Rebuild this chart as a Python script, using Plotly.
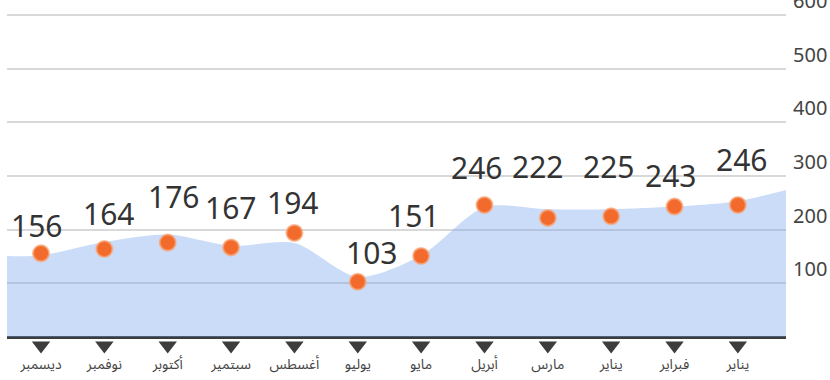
import plotly.graph_objects as go

# Monthly categories (left to right) and the values shown on the dots
months = ["ديسمبر", "نوفمبر", "أكتوبر", "سبتمير", "أغسطس", "يوليو",
          "مايو", "أبريل", "مارس", "يناير", "فبراير", "يناير"]
values = [156, 164, 176, 167, 194, 103, 151, 246, 222, 225, 243, 246]

# Smoothed background trend (position on the month axis, value)
trend_pos = [-0.54, 0, 1, 2, 3, 4, 5, 6, 7, 8, 9, 10, 11, 11.76]
trend_vals = [151, 152, 177, 191, 170, 175, 112, 152, 242, 238, 238, 243, 253, 274]

y_ticks = [100, 200, 300, 400, 500, 600]

# Label placement tweaks (pixels) so the numbers don't collide
label_dx = [-5, 4, 6, -1, -2, 14, -8, -8, -10, -3, -4, 4]
label_dy = [28, 36, 46, 40, 30, 29, 40, 38, 51, 50, 31, 46]

positions = list(range(len(months)))

fig = go.Figure()

fig.add_trace(go.Scatter(
    x=trend_pos, y=trend_vals, mode="lines",
    line=dict(width=0, shape="spline", smoothing=0.8),
    fill="tozeroy", fillcolor="rgba(110,160,235,0.37)",
    hoverinfo="skip", showlegend=False,
))

# Downward pointers under each month on the baseline
fig.add_trace(go.Scatter(
    x=positions, y=[-16] * len(positions), mode="markers",
    marker=dict(symbol="triangle-down", size=16, color="#3d3d3d"),
    cliponaxis=False, hoverinfo="skip", showlegend=False,
))

fig.add_trace(go.Scatter(
    x=positions, y=values, mode="markers",
    marker=dict(size=16, color="#F26A2C",
                line=dict(width=2, color="rgba(248,165,120,0.75)")),
    cliponaxis=False, showlegend=False,
))

for i, v in enumerate(values):
    fig.add_annotation(
        x=i, y=v, text=str(v), showarrow=False,
        xshift=label_dx[i], yshift=label_dy[i],
        font=dict(family="Noto Sans, Open Sans, sans-serif", size=30, color="#333333"),
    )

fig.update_layout(
    width=830, height=380,
    margin=dict(l=7, r=44, t=0, b=30),
    paper_bgcolor="white", plot_bgcolor="white",
    showlegend=False,
)

fig.update_xaxes(
    range=[-0.537, 11.76], automargin=False,
    tickvals=positions, ticktext=months,
    ticklabelstandoff=4,
    showgrid=False, zeroline=False, showline=False, ticks="",
    tickfont=dict(family="Noto Sans Arabic, DejaVu Sans, sans-serif", size=14, color="#444444"),
)

fig.update_yaxes(
    range=[-24.2, 628], automargin=False,
    side="right", tickvals=y_ticks,
    ticklabelposition="outside top", ticklabeloverflow="allow",
    ticklabelstandoff=6,
    showgrid=True, gridcolor="#d9d9d9", gridwidth=2,
    zeroline=True, zerolinecolor="#3c3c3c", zerolinewidth=3,
    showline=False, ticks="",
    tickfont=dict(family="Noto Sans, Open Sans, sans-serif", size=20, color="#444444"),
)

fig.write_html("out.html")
